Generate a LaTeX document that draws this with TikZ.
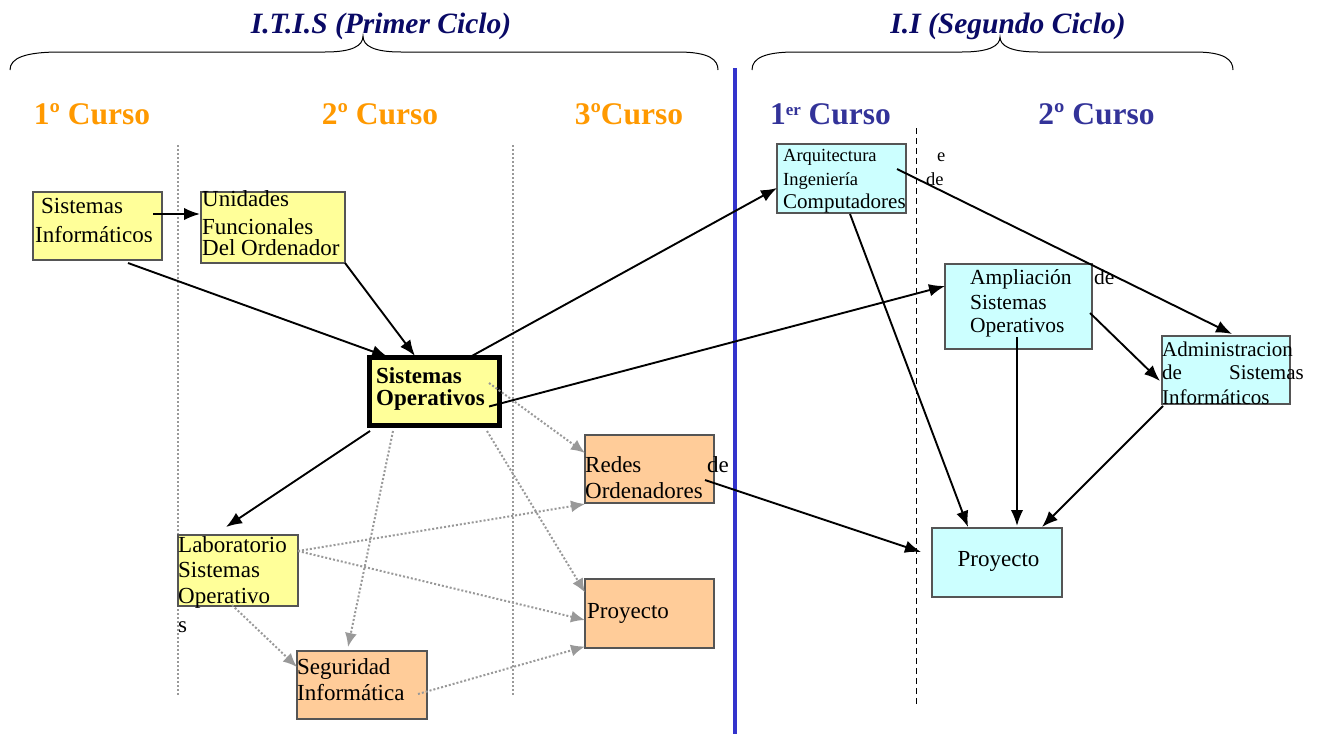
\documentclass[tikz,border=0pt]{standalone}
\usepackage{fontspec}
\setmainfont{Liberation Serif}
\usetikzlibrary{arrows.meta}

\definecolor{yel}{HTML}{FFFF99}
\definecolor{peach}{HTML}{FFCC99}
\definecolor{cyanbox}{HTML}{CCFFFF}
\definecolor{boxline}{HTML}{555555}
\definecolor{orangehd}{HTML}{FF9900}
\definecolor{bluehd}{HTML}{333399}
\definecolor{navy}{HTML}{0A0A66}
\definecolor{divider}{HTML}{3333CC}
\definecolor{dotgray}{HTML}{999999}

\begin{document}
\begin{tikzpicture}[x=1pt,y=-1pt,
  box/.style={draw=boxline, line width=1.1pt, rectangle, inner sep=0pt},
  txt/.style={anchor=base west, inner sep=0pt, font=\fontsize{23}{26}\selectfont},
  txtr/.style={txt, anchor=base east},
  small/.style={font=\fontsize{18.5}{22}\selectfont},
  mid/.style={font=\fontsize{21.5}{24}\selectfont},
  heading/.style={anchor=base, inner sep=0pt, font=\fontsize{31.5}{34}\bfseries\selectfont},
  cycle/.style={anchor=base, inner sep=0pt, text=navy, font=\fontsize{29.5}{31}\bfseries\itshape\selectfont},
  arr/.style={-{Latex[length=16pt,width=12.5pt]}, line width=1.9pt, black},
  optarr/.style={-{Latex[length=14pt,width=12pt]}, line width=2pt, dotgray, dash pattern=on 2pt off 2pt},
  guide/.style={dotgray, line width=1.1pt, dash pattern=on 2pt off 2pt},
  brace/.style={line width=1pt, black}
]
\useasboundingbox (0,0) rectangle (1321,734);

% ---- cycle titles and braces ----
\node[cycle] (cyc1) at (381,33) {I.T.I.S (Primer Ciclo)};
\node[cycle] (cyc2) at (1008,33) {I.I (Segundo Ciclo)};
\draw[brace] (10,70) .. controls (10,58) and (25,52) .. (60,52) -- (325,52)
  .. controls (352,52) and (363,46) .. (363,36)
  .. controls (363,46) and (374,52) .. (401,52) -- (678,52)
  .. controls (710,52) and (718,60) .. (718,70);
\draw[brace] (752,70) .. controls (752,58) and (765,52) .. (795,52) -- (962,52)
  .. controls (989,52) and (1000,46) .. (1000,37)
  .. controls (1000,46) and (1011,52) .. (1038,52) -- (1195,52)
  .. controls (1225,52) and (1233,60) .. (1233,70);

% ---- year headings ----
\node[heading, text=orangehd] (h1) at (92,124) {1º Curso};
\node[heading, text=orangehd] (h2) at (380,124) {2º Curso};
\node[heading, text=orangehd] (h3) at (629,124) {3ºCurso};
\node[heading, text=bluehd] (h4) at (830.5,124) {1\raisebox{9pt}{\fontsize{17}{17}\selectfont er} Curso};
\node[heading, text=bluehd] (h5) at (1096.5,124) {2º Curso};

% ---- column separators ----
\draw[guide] (178,145) -- (178,695);
\draw[guide] (513,145) -- (513,695);
\draw[black, line width=1pt, dash pattern=on 6pt off 4pt] (916,128) -- (916,705);
\draw[divider, line width=4pt] (735,68) -- (735,734);

% ---- subject boxes ----
\node[box, fill=yel, minimum width=129pt, minimum height=68pt] (SI) at (97.5,226) {};
\node[box, fill=yel, minimum width=144pt, minimum height=71pt] (UF) at (273,227.5) {};
\node[box, fill=yel, draw=black, line width=5pt, minimum width=130pt, minimum height=68pt] (SO) at (434.5,391.5) {};
\node[box, fill=yel, minimum width=120pt, minimum height=71pt] (LAB) at (238,570.5) {};
\node[box, fill=peach, minimum width=130pt, minimum height=68pt] (SEG) at (362,685) {};
\node[box, fill=peach, minimum width=129pt, minimum height=68pt] (RED) at (649.5,469) {};
\node[box, fill=peach, minimum width=129pt, minimum height=69pt] (PR1) at (649.5,613.5) {};
\node[box, fill=cyanbox, minimum width=129pt, minimum height=69pt] (ARQ) at (841.5,178.5) {};
\node[box, fill=cyanbox, minimum width=147pt, minimum height=85pt] (AMP) at (1018.5,306.5) {};
\node[box, fill=cyanbox, minimum width=128pt, minimum height=68pt] (ADM) at (1226,370) {};
\node[box, fill=cyanbox, minimum width=130pt, minimum height=69pt] (PR2) at (997,562.5) {};

% ---- box labels ----
\begin{scope}
  \clip (33,192) rectangle (162,241);
  \node[txt] (siA) at (41,213) {Sistemas};
  \node[txt] (siB) at (35,242) {Informáticos};
\end{scope}
\node[txt] (ufA) at (202,206) {Unidades};
\node[txt] (ufB) at (202,234) {Funcionales};
\node[txt] (ufC) at (202,255) {Del Ordenador};
\node[txt, font=\fontsize{23}{26}\bfseries\selectfont] (soA) at (376,383) {Sistemas};
\node[txt, font=\fontsize{23}{26}\bfseries\selectfont] (soB) at (376,405) {Operativos};
\node[txt] (labA) at (178,552) {Laboratorio};
\node[txt] (labB) at (178,577) {Sistemas};
\node[txt] (labC) at (178,603) {Operativo};
\node[txt] (labD) at (178,632) {s};
\node[txt] (segA) at (297,674) {Seguridad};
\node[txt] (segB) at (297,700) {Informática};
\node[txt] (redA) at (585,472) {Redes};
\node[txtr] (redB) at (729,472) {de};
\node[txt] (redC) at (585,498) {Ordenadores};
\node[txt] (pr1A) at (587,618) {Proyecto};
\node[txt, small] (arqA) at (783,161) {Arquitectura};
\node[txt, small] (arqB) at (783,185) {Ingeniería};
\node[txt, font=\fontsize{21}{24}\selectfont] (arqC) at (783,208) {Computadores};
\node[txt, small] (arqD) at (937,161) {e};
\node[txt, small] (arqE) at (926,185) {de};
\node[txt, mid] (ampA) at (970,284) {Ampliación};
\node[txt, mid] (ampB) at (970,309) {Sistemas};
\node[txt, mid] (ampC) at (970,332) {Operativos};
\node[txt, mid] (ampD) at (1094,284) {de};
\node[txt, font=\fontsize{21}{24}\selectfont] (admA) at (1162,356) {Administracion};
\node[txt, font=\fontsize{21}{24}\selectfont] (admB) at (1162,379) {de};
\node[txtr, font=\fontsize{21}{24}\selectfont] (admC) at (1304,379) {Sistemas};
\node[txt, font=\fontsize{21}{24}\selectfont] (admD) at (1162,404) {Informáticos};
\node[anchor=base, inner sep=0pt, font=\fontsize{23}{26}\selectfont] (pr2A) at (998.5,566) {Proyecto};

% ---- optional (dotted) dependencies ----
\draw[optarr] ([shift={(54.5,-8.5)}]SO.center) -- ([shift={(-64.5,-16)}]RED.center);
\draw[optarr] ([shift={(52.5,39.5)}]SO.center) -- ([shift={(-64.5,-21)}]PR1.center);
\draw[optarr] ([shift={(-41.5,39.5)}]SO.center) -- ([shift={(-14,-38)}]SEG.center);
\draw[optarr] ([shift={(60,-19.5)}]LAB.center) -- ([shift={(-64.5,35)}]RED.center);
\draw[optarr] ([shift={(60,-19.5)}]LAB.center) -- ([shift={(-64.5,6.5)}]PR1.center);
\draw[optarr] ([shift={(-6,34.5)}]LAB.center) -- ([shift={(-65,-18)}]SEG.center);
\draw[optarr] ([shift={(56,9)}]SEG.center) -- ([shift={(-64.5,33)}]PR1.center);

% ---- required dependencies ----
\draw[arr] ([shift={(55.5,-12)}]SI.center) -- ([shift={(-73,-13.5)}]UF.center);
\draw[arr] ([shift={(30.5,37)}]SI.center) -- ([shift={(-46.5,-34.5)}]SO.center);
\draw[arr] ([shift={(72,35.5)}]UF.center) -- ([shift={(-19.5,-35.5)}]SO.center);
\draw[arr] ([shift={(35.5,-34.5)}]SO.center) -- ([shift={(-64.5,9.5)}]ARQ.center);
\draw[arr] ([shift={(54.5,15)}]SO.center) -- ([shift={(-73.5,-20.5)}]AMP.center);
\draw[arr] ([shift={(-64.5,39.5)}]SO.center) -- ([shift={(-12,-43.5)}]LAB.center);
\draw[arr] ([shift={(55.5,-9.5)}]ARQ.center) -- ([shift={(6,-36)}]ADM.center);
\draw[arr] ([shift={(8.5,35.5)}]ARQ.center) -- ([shift={(-29,-35.5)}]PR2.center);
\draw[arr] ([shift={(-1.5,30.5)}]AMP.center) -- ([shift={(20,-36.5)}]PR2.center);
\draw[arr] ([shift={(71.5,6.5)}]AMP.center) -- ([shift={(-66,11)}]ADM.center);
\draw[arr] ([shift={(-63,36)}]ADM.center) -- ([shift={(45,-35.5)}]PR2.center);
\draw[arr] ([shift={(55.5,11)}]RED.center) -- ([shift={(-76,-10.5)}]PR2.center);
\end{tikzpicture}
\end{document}
